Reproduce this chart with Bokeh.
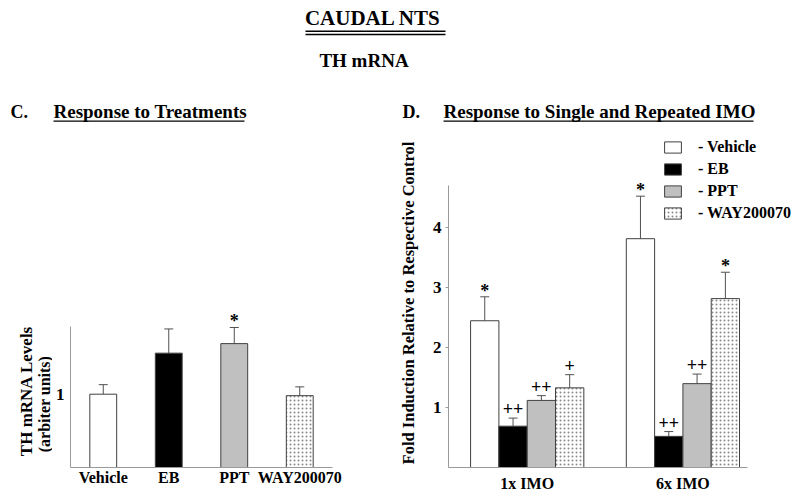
from bokeh.plotting import figure
from bokeh.models import (ColumnDataSource, Range1d, FactorRange, FixedTicker,
                          Whisker, TeeHead, LabelSet, Legend, LegendItem)
from bokeh.layouts import column, row
from bokeh.embed import file_html
from bokeh.resources import INLINE
from bokeh.core.properties import value

FONT = "Liberation Serif"

# ---------------- data ----------------
treatments = ["Vehicle", "EB", "PPT", "WAY200070"]
treat_mean = [1.00, 1.56, 1.69, 0.98]
treat_err = [0.13, 0.33, 0.22, 0.12]
treat_marks = ["", "", "*", ""]

groups = ["1x IMO", "6x IMO"]
series = ["Vehicle", "EB", "PPT", "WAY200070"]
mean_1x = [2.45, 0.69, 1.12, 1.33]
err_1x = [0.40, 0.135, 0.08, 0.22]
marks_1x = ["*", "++", "++", "+"]
mean_6x = [3.82, 0.52, 1.40, 2.82]
err_6x = [0.71, 0.08, 0.16, 0.44]
marks_6x = ["*", "++", "++", "*"]

right_ticks = [1, 2, 3, 4]
left_ticks = [1]

# ---------------- styles ----------------
bar_fill = ["white", "black", "#c0c0c0", "white"]
bar_hatch = [" ", " ", " ", "."]
BAR_LINE = "#404040"
AXIS_LINE = "#9a9a9a"
ERR_LINE = "#505050"
PANEL_H = 365
BORDER_TOP = 5
BORDER_BOTTOM = 28
FRAME_TOP = 135      # page y of the frames' top edge (130 + BORDER_TOP)
FRAME_BOTTOM = 467   # page y of the frames' bottom edge


def mark_lift(marks):
    # plus signs sit on the baseline, lift them a little above the error cap
    return [3 if "+" in m else 0 for m in marks]


def style_axes(p):
    p.grid.visible = False
    p.outline_line_color = None
    for ax in p.axis:
        ax.axis_line_color = AXIS_LINE
        ax.minor_tick_line_color = None
        ax.major_label_text_font = FONT
        ax.major_label_text_font_style = "bold"
        ax.major_label_text_color = "black"


def blank_fig(width, height, x0, y_top, y_bottom, **kw):
    f = figure(width=width, height=height, x_range=Range1d(x0, x0 + width),
               y_range=Range1d(y_bottom, y_top), x_axis_type=None, y_axis_type=None,
               output_backend="svg", toolbar_location=None, **kw)
    f.grid.visible = False
    f.outline_line_color = None
    return f


def put_text(f, x, y, s, size, align="left", angle=0):
    f.text(x=[x], y=[y], text=[s], text_font=value(FONT), text_font_style="bold",
           text_font_size=size, text_align=align, text_baseline="middle",
           text_color="black", angle=angle, angle_units="deg")


# ---------------- header ----------------
hdr = blank_fig(800, 130, 0, 0, 130, min_border=0)
put_text(hdr, 375, 17.7, "CAUDAL  NTS", "21px", "center")
hdr.segment(x0=[305, 305], y0=[30.7, 34], x1=[445, 445], y1=[30.7, 34],
            line_color="black", line_width=1.4)
put_text(hdr, 363.5, 60.2, "TH mRNA", "19px", "center")
put_text(hdr, 10, 111, "C.", "18px")
put_text(hdr, 53, 111, "Response to Treatments", "19px")
hdr.segment(x0=[53], y0=[120.7], x1=[244], y1=[120.7], line_color="black", line_width=1.2)
put_text(hdr, 402, 111, "D.", "18px")
put_text(hdr, 443, 111, "Response to Single and Repeated IMO", "19px")
hdr.segment(x0=[443], y0=[120.7], x1=[753], y1=[120.7], line_color="black", line_width=1.2)

# ---------------- left y-axis title ----------------
lab_l = blank_fig(52, PANEL_H, 0, FRAME_TOP, FRAME_BOTTOM, min_border_left=0,
                  min_border_right=0, min_border_top=BORDER_TOP, min_border_bottom=BORDER_BOTTOM)
put_text(lab_l, 25.5, 390.5, "TH mRNA Levels", "17px", "center", 90)
put_text(lab_l, 43.5, 403.5, "(arbiter units)", "16px", "center", 90)

# ---------------- left panel ----------------
pl = figure(width=338, height=PANEL_H, x_range=FactorRange(factors=treatments, range_padding=0),
            y_range=Range1d(0, 4.529), min_border_left=17, min_border_right=58,
            min_border_top=BORDER_TOP, min_border_bottom=BORDER_BOTTOM,
            output_backend="svg", toolbar_location=None)
style_axes(pl)
lsrc = ColumnDataSource(dict(
    x=treatments, top=treat_mean,
    up=[m + e for m, e in zip(treat_mean, treat_err)],
    mark=treat_marks, lift=mark_lift(treat_marks), fill=bar_fill, hatch=bar_hatch))
pl.vbar(x="x", top="top", width=0.41, source=lsrc, fill_color="fill",
        line_color=BAR_LINE, line_width=1, hatch_pattern="hatch",
        hatch_color="#8a8a8a", hatch_scale=4, hatch_weight=1)
pl.add_layout(Whisker(source=lsrc, base="x", lower="top", upper="up",
                      line_color=ERR_LINE, line_width=1,
                      upper_head=TeeHead(size=9, line_color=ERR_LINE, line_width=1),
                      lower_head=None))
pl.add_layout(LabelSet(source=lsrc, x="x", y="up", text="mark", text_align="center",
                       text_baseline="alphabetic", y_offset="lift",
                       text_font=value(FONT), text_font_style="bold",
                       text_font_size="18px", text_color="black"))
pl.xaxis.major_tick_line_color = None
pl.xaxis.major_tick_out = 0
pl.xaxis.major_tick_in = 0
pl.xaxis.major_label_text_font_size = "16px"
pl.xaxis.major_label_standoff = 1
pl.yaxis.ticker = FixedTicker(ticks=left_ticks)
pl.yaxis.bounds = (0, 1.924)
pl.yaxis.major_tick_line_color = None
pl.yaxis.major_tick_out = 0
pl.yaxis.major_tick_in = 0
pl.yaxis.major_label_standoff = 6
pl.yaxis.major_label_text_font_size = "17px"

# ---------------- right y-axis title ----------------
lab_r = blank_fig(32, PANEL_H, 390, FRAME_TOP, FRAME_BOTTOM, min_border_left=0,
                  min_border_right=0, min_border_top=BORDER_TOP, min_border_bottom=BORDER_BOTTOM)
put_text(lab_r, 408, 302.5, "Fold Induction Relative to Respective Control",
         "16.5px", "center", 90)

# ---------------- right panel ----------------
GROUP_STEP = 5.5
pr = figure(width=378, height=PANEL_H, x_range=Range1d(-1.28, 11.153),
            y_range=Range1d(0, 5.543), min_border_left=26, min_border_right=0,
            min_border_top=BORDER_TOP, min_border_bottom=BORDER_BOTTOM,
            output_backend="svg", toolbar_location=None)
style_axes(pr)
legend_items = []
for i, s in enumerate(series):
    means = [mean_1x[i], mean_6x[i]]
    errs = [err_1x[i], err_6x[i]]
    marks = [marks_1x[i], marks_6x[i]]
    src = ColumnDataSource(dict(
        x=[g * GROUP_STEP + i for g in range(len(groups))],
        top=means, up=[m + e for m, e in zip(means, errs)],
        mark=marks, lift=mark_lift(marks)))
    r = pr.vbar(x="x", top="top", width=1.0, source=src, fill_color=bar_fill[i],
                line_color=BAR_LINE, line_width=1, hatch_pattern=bar_hatch[i],
                hatch_color="#8a8a8a", hatch_scale=4, hatch_weight=1)
    legend_items.append(LegendItem(label="- " + s, renderers=[r]))
    pr.add_layout(Whisker(source=src, base="x", lower="top", upper="up",
                          line_color=ERR_LINE, line_width=1,
                          upper_head=TeeHead(size=9, line_color=ERR_LINE, line_width=1),
                          lower_head=None))
    pr.add_layout(LabelSet(source=src, x="x", y="up", text="mark", text_align="center",
                           text_baseline="alphabetic", y_offset="lift",
                           text_font=value(FONT), text_font_style="bold",
                           text_font_size="18px", text_color="black"))

pr.xaxis.ticker = FixedTicker(ticks=[g * GROUP_STEP + 1.5 for g in range(len(groups))])
pr.xaxis.major_label_overrides = {g * GROUP_STEP + 1.5: name for g, name in enumerate(groups)}
pr.xaxis.bounds = (-1.28, 9.27)
pr.xaxis.major_tick_line_color = None
pr.xaxis.major_tick_out = 0
pr.xaxis.major_tick_in = 0
pr.xaxis.major_label_text_font_size = "16px"
pr.xaxis.major_label_standoff = 7
pr.yaxis.ticker = FixedTicker(ticks=right_ticks)
pr.yaxis.bounds = (0, 4.71)
pr.yaxis.major_tick_line_color = AXIS_LINE
pr.yaxis.major_tick_in = 0
pr.yaxis.major_tick_out = 3
pr.yaxis.major_label_standoff = 4
pr.yaxis.major_label_text_font_size = "17px"

legend = Legend(items=legend_items, location=(214, 245), orientation="vertical",
                padding=0, margin=0, spacing=4, glyph_height=14, glyph_width=21,
                label_standoff=15, label_height=18,
                label_text_font=FONT, label_text_font_style="bold",
                label_text_font_size="16px", label_text_color="black",
                border_line_color=None, background_fill_alpha=0)
pr.add_layout(legend)

layout = column(hdr, row(lab_l, pl, lab_r, pr))
open("out.html", "w").write(file_html(layout, INLINE))
